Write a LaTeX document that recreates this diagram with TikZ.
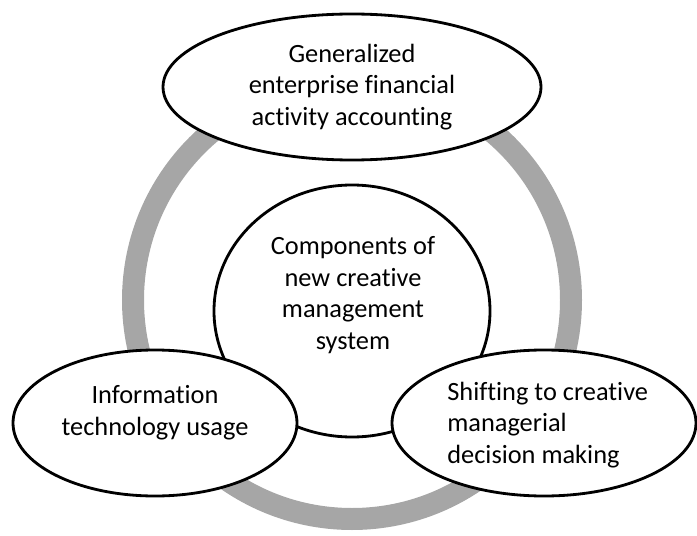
\documentclass[tikz,border=0pt]{standalone}
\usepackage{fontspec}
\setmainfont[Ligatures={NoCommon}]{Carlito}
\usetikzlibrary{shapes.geometric}
\definecolor{ringgray}{RGB}{166,166,166}
\tikzset{
  bubble/.style={ellipse, draw=black, line width=1.6pt, fill=white, inner sep=0pt},
  lbl/.style={font=\fontsize{15}{18}\selectfont, text=black, inner sep=0pt},
}
\begin{document}
\begin{tikzpicture}
\useasboundingbox (0,0) rectangle (13.94,10.7);
% gray ring
\draw[ringgray, line width=0.44cm] (7.04,4.70) circle (4.38cm);
% centre
\node[bubble, minimum width=5.52cm, minimum height=5.04cm] (core) at (7.04,4.48) {};
\node[lbl, align=center] (coretext) at (7.06,4.80) {Components of\\new creative\\management\\system};
% top
\node[bubble, minimum width=7.56cm, minimum height=2.92cm] (top) at (7.04,8.96) {};
\node[lbl, align=center] (toptext) at (7.04,8.96) {Generalized\\enterprise financial\\activity accounting};
% left
\node[bubble, minimum width=5.68cm, minimum height=2.92cm] (left) at (3.10,2.24) {};
\node[lbl, align=center] (lefttext) at (3.10,2.44) {Information\\technology usage};
% right
\node[bubble, minimum width=6.08cm, minimum height=2.92cm] (right) at (10.88,2.24) {};
\node[lbl, align=left, anchor=west] (righttext) at (8.94,2.20) {Shifting to creative\\managerial\\decision making};
\end{tikzpicture}
\end{document}
